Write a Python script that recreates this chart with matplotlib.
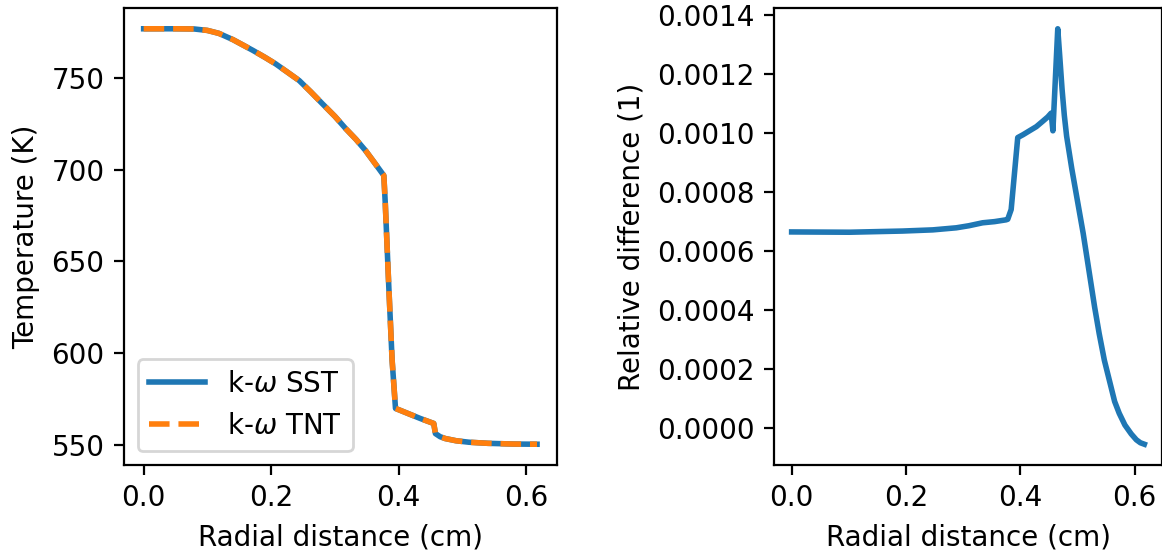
import matplotlib
matplotlib.use('Agg')
import matplotlib.pyplot as plt
from matplotlib.ticker import FormatStrFormatter

# temperature profile (both models practically identical)
r_temp = [0.0, 0.05, 0.079, 0.10, 0.118, 0.14, 0.171, 0.19, 0.207, 0.225, 0.244,
          0.262, 0.280, 0.30, 0.317, 0.333, 0.348, 0.362, 0.3767,
          0.379, 0.3845, 0.3897, 0.395, 0.434, 0.455, 0.4576, 0.465, 0.473,
          0.49, 0.51, 0.54, 0.58, 0.617]
temp_sst = [776.7, 776.7, 776.6, 775.8, 774.2, 770.8, 765.0, 761.2, 757.6, 753.2, 748.5,
            742.4, 736.0, 729.0, 722.3, 716.5, 710.4, 703.8, 696.8,
            681.4, 636.1, 596.2, 570.0, 564.5, 561.8, 556.3, 554.6, 553.6,
            552.4, 551.6, 551.0, 550.6, 550.5]
temp_tnt = [776.7, 776.7, 776.6, 775.8, 774.2, 770.8, 765.0, 761.2, 757.6, 753.2, 748.5,
            742.4, 736.0, 729.0, 722.3, 716.5, 710.4, 703.8, 696.8,
            681.4, 636.1, 596.2, 570.0, 564.5, 561.8, 556.3, 554.6, 553.6,
            552.4, 551.6, 551.0, 550.6, 550.5]

# relative difference between the two
r_diff = [0.0, 0.101, 0.194, 0.247, 0.288, 0.31, 0.334, 0.355, 0.375, 0.378, 0.384,
          0.3955, 0.405, 0.416, 0.428, 0.439, 0.448, 0.454, 0.457, 0.4655,
          0.469, 0.473, 0.477, 0.481, 0.490, 0.500, 0.510, 0.518, 0.530, 0.538,
          0.547, 0.556, 0.565, 0.573, 0.583, 0.594, 0.603, 0.610, 0.617]
rel_diff = [0.000665, 0.000664, 0.000668, 0.000672, 0.000679, 0.000686, 0.000696, 0.000700,
            0.000706, 0.000708, 0.000741,
            0.000985, 0.000995, 0.001008, 0.001022, 0.001040, 0.001055, 0.001068, 0.001008,
            0.001354,
            0.00126, 0.00115, 0.00106, 0.00099, 0.00088, 0.00077, 0.00066, 0.00056, 0.00041,
            0.00032, 0.00023, 0.00016, 0.00009, 0.00005, 0.00001, -0.00002, -0.00004,
            -0.00005, -0.000055]

fig = plt.figure(figsize=(5.81, 2.76), dpi=200)
ax1 = fig.add_axes([0.1067, 0.1576, 0.3724, 0.8279])
ax2 = fig.add_axes([0.6661, 0.1576, 0.3339, 0.8279])

ax1.plot(r_temp, temp_sst, lw=2, label=r'k-$\omega$ SST')
ax1.plot(r_temp, temp_tnt, '--', lw=2, label=r'k-$\omega$ TNT')
ax1.set_xlabel('Radial distance (cm)')
ax1.set_ylabel('Temperature (K)')
ax1.legend(loc='lower left')

ax2.plot(r_diff, rel_diff, lw=2)
ax2.set_xlabel('Radial distance (cm)')
ax2.set_ylabel('Relative difference (1)')
ax2.yaxis.set_major_formatter(FormatStrFormatter('%.4f'))

fig.savefig('out.png', dpi=200)
